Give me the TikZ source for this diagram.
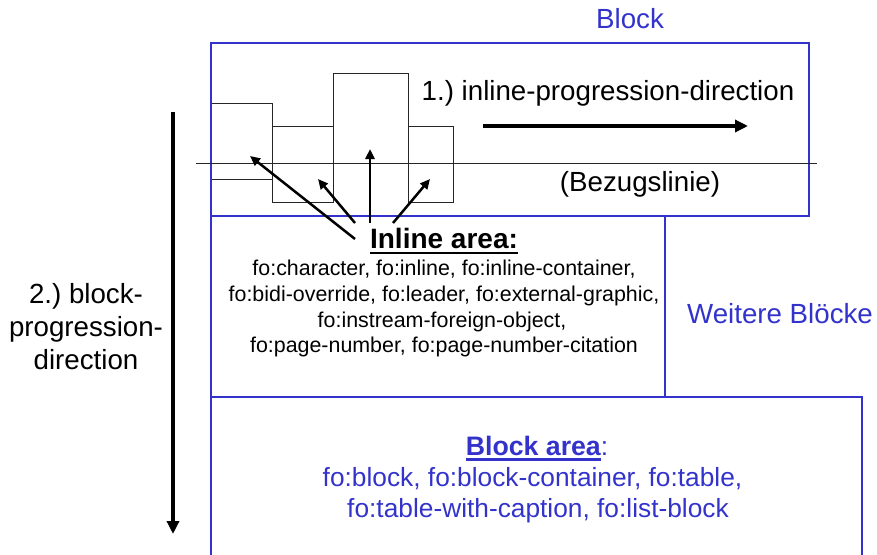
\documentclass[tikz,border=0pt]{standalone}
\usepackage{fontspec}
\setmainfont{Liberation Sans}
\usetikzlibrary{arrows.meta}
\definecolor{fblue}{RGB}{51,51,204}
\frenchspacing
\newcommand\fbig{\fontsize{27.7}{33}\selectfont}
\newcommand\fsmall{\fontsize{21.4}{26}\selectfont}
\newcommand\fmid{\fontsize{26.3}{31}\selectfont}
\newcommand\fibold{\fontsize{28}{33}\selectfont\bfseries}
\newcommand\fbbold{\fontsize{26.7}{31}\selectfont\bfseries}
\newcommand\myul[2]{\sbox0{#2}\rlap{\rule[-#1]{\wd0}{2.2pt}}\usebox0}
\begin{document}
\begin{tikzpicture}[x=1pt,y=-1pt,
  bluebox/.style={draw=fblue,line width=2.8pt,inner sep=0pt,outer sep=0pt},
  thinbox/.style={draw=black!85,line width=0.9pt,inner sep=0pt,outer sep=0pt},
  thinline/.style={draw=black!85,line width=0.9pt},
  txt/.style={anchor=base,inner sep=0pt,font=\fbig},
  itxt/.style={anchor=base,inner sep=0pt,font=\fsmall},
  btxt/.style={anchor=base,inner sep=0pt,font=\fmid,text=fblue},
  bigarrow/.style={line width=3.4pt,-{Triangle[length=13pt,width=12pt]}},
  smallarrow/.style={line width=2.5pt,-{Triangle[length=10pt,width=9pt]}}]
\useasboundingbox (0,0) rectangle (877,554);
% inline rectangles
\node[thinbox, minimum width=61pt, minimum height=76pt] (r1) at (241.5,141) {};
\node[thinbox, minimum width=61pt, minimum height=76pt] (r2) at (302.5,164) {};
\node[thinbox, minimum width=75pt, minimum height=90pt] (r3) at (370.5,118) {};
\node[thinbox, minimum width=45pt, minimum height=76pt] (r4) at (430.5,164) {};
% block boxes
\node[bluebox, minimum width=598pt, minimum height=173pt] (block) at (510,129.5) {};
\coordinate (bl0) at (196,163);
\coordinate (bl1) at (817,163);
\draw[thinline] (bl0) -- (bl1);
\node[bluebox, minimum width=454pt, minimum height=181pt] (inl) at (438,306.5) {};
\begin{scope}
\clip (0,0) rectangle (877,554);
\node[bluebox, minimum width=651pt, minimum height=173pt] (barea) at (536.5,483.5) {};
\end{scope}
% texts
\node[txt, text=fblue] (blocklbl) at (630,28) {Block};
\node[txt] (ipd) at (608,100) {1.) inline-progression-direction};
\node[txt] (bez) at (640,191) {(Bezugslinie)};
\node[txt, text=fblue] (weitere) at (780,323) {Weitere Blöcke};
\node[txt] (bpd1) at (86,303) {2.) block-};
\node[txt] (bpd2) at (86,336) {progression-};
\node[txt] (bpd3) at (86,369) {direction};
\node[txt, font=\fibold] (ialbl) at (444,248) {\myul{6.2pt}{Inline area:}};
\node[itxt] (il1) at (444,275.5) {fo:character, fo:inline, fo:inline-container,};
\node[itxt] (il2) at (444,301.3) {fo:bidi-override, fo:leader, fo:external-graphic,};
\node[itxt] (il3) at (442,327.1) {fo:instream-foreign-object,};
\node[itxt] (il4) at (444,352.9) {fo:page-number, fo:page-number-citation};
\node[btxt] (balbl) at (537,455) {\myul{5.5pt}{\fbbold Block area}:};
\node[btxt] (bl1t) at (532.5,486.5) {fo:block, fo:block-container, fo:table,};
\node[btxt] (bl2t) at (538,517) {fo:table-with-caption, fo:list-block};
% arrows
\coordinate (hs) at (483,126);
\coordinate (he) at (748,126);
\draw[bigarrow] (hs) -- (he);
\coordinate (vs) at (173,112);
\coordinate (ve) at (173,534);
\draw[bigarrow] (vs) -- (ve);
\coordinate (s1) at (355,239); \coordinate (t1) at (250,156);
\coordinate (s2) at (355,223); \coordinate (t2) at (318,179);
\coordinate (s3) at (370,223); \coordinate (t3) at (370,149);
\coordinate (s4) at (393,223); \coordinate (t4) at (430,179);
\draw[smallarrow] (s1) -- (t1);
\draw[smallarrow] (s2) -- (t2);
\draw[smallarrow] (s3) -- (t3);
\draw[smallarrow] (s4) -- (t4);
\end{tikzpicture}
\end{document}
